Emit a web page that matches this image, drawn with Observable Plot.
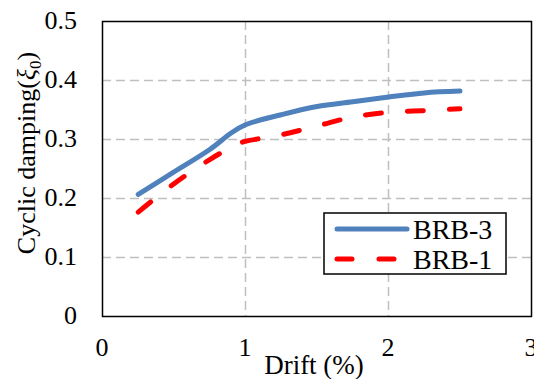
<!DOCTYPE html>
<html>
<head>
<meta charset="utf-8">
<script src="https://cdn.jsdelivr.net/npm/d3@7"></script>
<script src="https://cdn.jsdelivr.net/npm/@observablehq/plot@0.6"></script>
<style>
  html, body { margin: 0; padding: 0; background: #fff; }
  #chart svg { display: block; }
  #chart svg, #chart svg text { font-family: 'Liberation Serif', 'Times New Roman', serif !important; }
</style>
</head>
<body>
<div id="chart"></div>
<script>
const drift3 = [0.25, 0.5, 0.75, 0.9, 1.0, 1.25, 1.5, 1.75, 2.0, 2.25, 2.5];
const brb3   = [0.207, 0.245, 0.283, 0.311, 0.325, 0.342, 0.356, 0.364, 0.372, 0.379, 0.382];
const drift1 = [0.25, 0.5, 0.75, 0.95, 1.0, 1.25, 1.5, 1.75, 2.0, 2.25, 2.5];
const brb1   = [0.177, 0.225, 0.266, 0.293, 0.297, 0.308, 0.323, 0.338, 0.346, 0.349, 0.352];
const xTicks = [0, 1, 2, 3];
const yTicks = [0, 0.1, 0.2, 0.3, 0.4, 0.5];
const seriesNames = ["BRB-3", "BRB-1"];
const colors = ["#4f81bd", "#ff0000"];

const d3data = drift3.map((x, i) => ({x, y: brb3[i]}));
const d1data = drift1.map((x, i) => ({x, y: brb1[i]}));

const ff = "'Liberation Serif', 'Times New Roman', serif";
const W = 534, H = 379;
const plot = Plot.plot({
  width: W,
  height: H,
  marginLeft: 102,
  marginRight: 3,
  marginTop: 21,
  marginBottom: 63,
  style: {fontFamily: ff, color: "black", background: "white"},
  x: {domain: [0, 3], axis: null},
  y: {domain: [0, 0.5], axis: null},
  marks: [
    Plot.gridX(xTicks.filter(t => t > 0 && t < 3), {stroke: "#bfbfbf", strokeOpacity: 1, strokeWidth: 1.5, strokeDasharray: "9,5"}),
    Plot.gridY(yTicks.filter(t => t > 0 && t < 0.5), {stroke: "#bfbfbf", strokeOpacity: 1, strokeWidth: 1.5, strokeDasharray: "9,5"}),
    Plot.frame({stroke: "black", strokeWidth: 1.5}),
    Plot.line(d1data, {x: "x", y: "y", stroke: colors[1], strokeWidth: 5, strokeLinecap: "round", strokeDasharray: "16,26", curve: "catmull-rom"}),
    Plot.line(d3data, {x: "x", y: "y", stroke: colors[0], strokeWidth: 5, strokeLinecap: "round", curve: "catmull-rom"})
  ]
});
document.getElementById("chart").appendChild(plot);

const svg = d3.select(plot);
const xs = plot.scale("x"), ys = plot.scale("y");

// tick labels via the plot's own scales
const tk = svg.append("g").attr("font-family", ff).attr("font-size", 26).attr("fill", "black");
xTicks.forEach(t => {
  tk.append("text").attr("x", xs.apply(t)).attr("y", 316 + 32).attr("dy", "0.32em")
    .attr("text-anchor", "middle").text(String(t));
});
yTicks.forEach(t => {
  tk.append("text").attr("x", 77).attr("y", ys.apply(t)).attr("dy", "0.32em")
    .attr("text-anchor", "end").text(String(t));
});

// x axis title
svg.append("text")
  .attr("x", 314).attr("y", 374)
  .attr("text-anchor", "middle")
  .attr("font-family", ff).attr("font-size", 27)
  .attr("fill", "black")
  .text("Drift (%)");

// y axis title
const yl = svg.append("text")
  .attr("transform", "translate(35,153) rotate(-90)")
  .attr("text-anchor", "middle")
  .attr("font-family", ff).attr("font-size", 26)
  .attr("fill", "black");
yl.append("tspan").text("Cyclic damping(");
yl.append("tspan").attr("font-style", "italic").text("ξ");
yl.append("tspan").attr("font-size", 17).attr("dy", 6).text("0");
yl.append("tspan").attr("dy", -6).text(")");

// legend
const lg = svg.append("g");
lg.append("rect").attr("x", 324).attr("y", 213).attr("width", 182).attr("height", 61)
  .attr("fill", "white").attr("stroke", "black").attr("stroke-width", 1.5);
const rows = [{y: 229, dash: null}, {y: 259, dash: "15,27"}];
rows.forEach((r, i) => {
  lg.append("line").attr("x1", 337).attr("x2", i === 0 ? 407 : 398)
    .attr("y1", r.y).attr("y2", r.y)
    .attr("stroke", colors[i]).attr("stroke-width", 5).attr("stroke-linecap", "round")
    .attr("stroke-dasharray", r.dash);
  lg.append("text").attr("x", 413).attr("y", r.y).attr("dy", "0.35em")
    .attr("text-anchor", "start")
    .attr("font-family", ff).attr("font-size", 28).attr("fill", "black")
    .text(seriesNames[i]);
});
</script>
</body>
</html>
